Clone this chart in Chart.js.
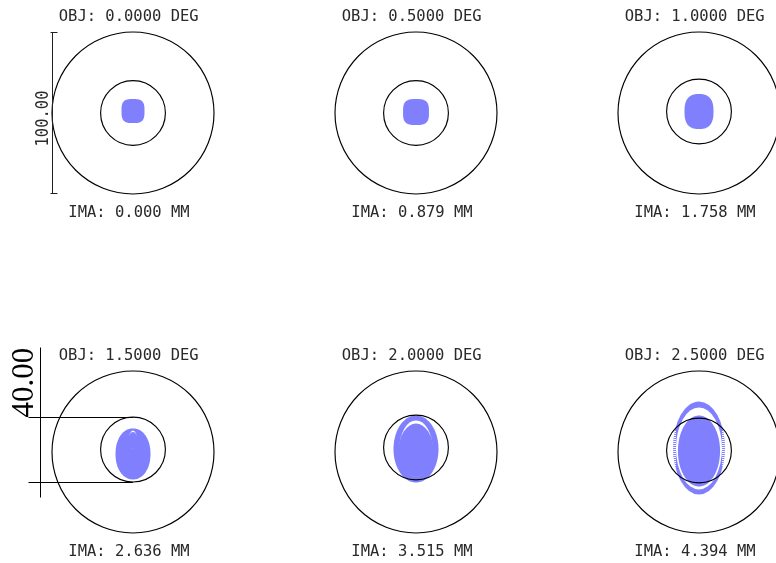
<!DOCTYPE html>
<html>
<head>
<meta charset="utf-8">
<title>Spot Diagram</title>
<script src="https://cdn.jsdelivr.net/npm/chart.js@4.4.1/dist/chart.umd.min.js"></script>
<style>
  html, body { margin: 0; padding: 0; background: #fff; width: 776px; height: 563px; overflow: hidden; }
  canvas { position: absolute; }
</style>
</head>
<body>
<script>
// Field points and their chief-ray image heights
const fieldAngles  = [0.0, 0.5, 1.0, 1.5, 2.0, 2.5];          // deg
const imageHeights = [0.000, 0.879, 1.758, 2.636, 3.515, 4.394]; // mm

// Reference circles (µm): plot scale circle and Airy disk
const scaleRadius = 50;   // 100.00 µm scale bar
const airyRadius  = 20;   // 40.00 µm Airy diameter
const airyCenterY = [0.0, 0.0, 0.9, 1.5, 2.8, 0.9];

// Spot core extents (µm, full width / full height) and centroid shift
const spotWidths   = [14.2, 16.0, 17.9, 21.6, 27.8, 26.0];
const spotHeights  = [14.8, 16.0, 21.6, 31.5, 41.4, 43.8];
const spotCenterY  = [1.2, 0.6, 0.9, -1.2, 1.85, 0.6];
const spotSquareness = [3.2, 3.2, 2.6, 2.1, 2.0, 2.0];

// Coma halo of the 2.5° field (µm): outer ring, the gap inside it, hatched band
const haloWidth = 32.1, haloHeight = 57.4, haloCenterY = 2.5;
const gapWidth  = 28.4, gapHeight  = 50.6, gapCenterY  = 2.2;
const haloHatchTop = 13.0, haloHatchBottom = -17.0;

// Vignetting crescents inside the 1.5° and 2.0° spots (µm)
const crescentField   = [3, 4];
const crescentWidth   = [5.0, 20.4];
const crescentOuterH  = [11.1, 34.6];
const crescentOuterY  = [7.7, 2.16];
const crescentInnerH  = [9.9, 32.4];
const crescentInnerY  = [7.1, 1.08];

const SPOT_BLUE = '#8080ff';
const PX_PER_UM = 1.62;
const SIZE = 260;
const HALF_RANGE = (SIZE / 2) / PX_PER_UM;
const colX = [133, 416, 699];
const rowY = [113, 451.5];

function superellipsePath(ctx, cx, cy, a, b, n) {
  ctx.beginPath();
  const steps = 120;
  for (let k = 0; k <= steps; k++) {
    const t = (k / steps) * Math.PI * 2;
    const c = Math.cos(t), s = Math.sin(t);
    const x = cx + a * Math.sign(c) * Math.pow(Math.abs(c), 2 / n);
    const y = cy + b * Math.sign(s) * Math.pow(Math.abs(s), 2 / n);
    if (k === 0) ctx.moveTo(x, y); else ctx.lineTo(x, y);
  }
  ctx.closePath();
}

function ellipsePath(ctx, cx, cy, rx, ry) {
  ctx.beginPath();
  ctx.ellipse(cx, cy, rx, ry, 0, 0, Math.PI * 2);
}

function fillEllipse(ctx, cx, cy, rx, ry, color) {
  ellipsePath(ctx, cx, cy, rx, ry);
  ctx.fillStyle = color;
  ctx.fill();
}

const spotPlugin = {
  id: 'spot',
  afterDatasetsDraw(chart, args, opts) {
    const i = opts.index;
    const ctx = chart.ctx;
    const xs = chart.scales.x, ys = chart.scales.y;
    const sx = v => xs.getPixelForValue(v);
    const sy = v => ys.getPixelForValue(v);
    const len = u => sx(u) - sx(0);
    const cx = sx(0), cy = sy(0);

    ctx.save();

    // halo ring (largest field only)
    if (i === 5) {
      fillEllipse(ctx, cx, sy(haloCenterY), len(haloWidth / 2), len(haloHeight / 2), SPOT_BLUE);
      fillEllipse(ctx, cx, sy(gapCenterY), len(gapWidth / 2), len(gapHeight / 2), '#ffffff');
      // sparse ray rows along the flanks of the ring
      ctx.save();
      ellipsePath(ctx, cx, sy(haloCenterY), len(haloWidth / 2), len(haloHeight / 2));
      ctx.clip();
      ctx.fillStyle = '#ffffff';
      const hw = len(haloWidth / 2);
      for (let y = Math.round(sy(haloHatchTop)); y <= sy(haloHatchBottom); y += 2) {
        ctx.fillRect(cx - hw - 1, y, hw - len(gapWidth / 2) + 1, 1);
        ctx.fillRect(cx + len(gapWidth / 2), y, hw - len(gapWidth / 2) + 1, 1);
      }
      ctx.restore();
    }

    // spot core
    superellipsePath(ctx, cx, sy(spotCenterY[i]), len(spotWidths[i] / 2), len(spotHeights[i] / 2), spotSquareness[i]);
    ctx.fillStyle = SPOT_BLUE;
    ctx.fill();

    // crescents
    const ci = crescentField.indexOf(i);
    if (ci >= 0) {
      fillEllipse(ctx, cx, sy(crescentOuterY[ci]), len(crescentWidth[ci] / 2), len(crescentOuterH[ci] / 2), '#ffffff');
      fillEllipse(ctx, cx, sy(crescentInnerY[ci]), len(crescentWidth[ci] / 2) + 0.8, len(crescentInnerH[ci] / 2) + 0.4, SPOT_BLUE);
    }

    // reference circles
    ctx.strokeStyle = '#000';
    ctx.lineWidth = 1.15;
    ctx.beginPath();
    ctx.arc(cx, cy, len(scaleRadius), 0, Math.PI * 2);
    ctx.stroke();
    ctx.beginPath();
    ctx.arc(cx, sy(airyCenterY[i]), len(airyRadius), 0, Math.PI * 2);
    ctx.stroke();
    ctx.lineWidth = 1;

    // labels
    ctx.fillStyle = '#2a2a2a';
    ctx.font = "15.5px 'DejaVu Sans Mono'";
    ctx.textAlign = 'center';
    ctx.textBaseline = 'alphabetic';
    ctx.fillText('OBJ: ' + fieldAngles[i].toFixed(4) + ' DEG', cx - 4.3, cy - 92);
    ctx.fillText('IMA: ' + imageHeights[i].toFixed(3) + ' MM', cx - 4, cy + 103.5);

    // scale bar for the plot circle
    if (i === 0) {
      const bx = Math.round(sx(-scaleRadius)) + 0.5;
      const top = sy(scaleRadius), bot = sy(-scaleRadius);
      ctx.strokeStyle = '#222';
      ctx.beginPath();
      ctx.moveTo(bx, top); ctx.lineTo(bx, bot);
      ctx.moveTo(bx - 2, Math.round(top) + 0.5); ctx.lineTo(bx + 5, Math.round(top) + 0.5);
      ctx.moveTo(bx - 2, Math.round(bot) - 0.5); ctx.lineTo(bx + 5, Math.round(bot) - 0.5);
      ctx.stroke();
      ctx.save();
      ctx.translate(cx - 90, cy + 5.5);
      ctx.rotate(-Math.PI / 2);
      ctx.scale(1, 1.15);
      ctx.textBaseline = 'middle';
      ctx.fillText((scaleRadius * 2).toFixed(2), 0, 0);
      ctx.restore();
    }

    // scale bar for the Airy diameter
    if (i === 3) {
      const yTop = Math.round(sy(airyCenterY[i] + airyRadius)) + 0.5;
      const yBot = Math.round(sy(airyCenterY[i] - airyRadius)) + 0.5;
      const vx = Math.round(cx - 93.5) + 0.5;
      ctx.strokeStyle = '#000';
      ctx.beginPath();
      ctx.moveTo(cx - 104.5, yTop); ctx.lineTo(cx, yTop);
      ctx.moveTo(cx - 104.5, yBot); ctx.lineTo(cx, yBot);
      ctx.moveTo(vx, yTop - 70); ctx.lineTo(vx, yBot + 15);
      ctx.stroke();
      ctx.save();
      ctx.translate(cx - 100, yTop);
      ctx.rotate(-Math.PI / 2);
      ctx.font = "31px 'Liberation Serif'";
      ctx.fillStyle = '#000';
      ctx.textAlign = 'left';
      ctx.textBaseline = 'alphabetic';
      ctx.fillText((airyRadius * 2).toFixed(2), 0, 0);
      ctx.restore();
    }

    ctx.restore();
  }
};

fieldAngles.forEach((angle, i) => {
  const canvas = document.createElement('canvas');
  canvas.width = SIZE;
  canvas.height = SIZE;
  canvas.style.left = (colX[i % 3] - SIZE / 2) + 'px';
  canvas.style.top = (rowY[Math.floor(i / 3)] - SIZE / 2) + 'px';
  document.body.appendChild(canvas);

  new Chart(canvas, {
    type: 'scatter',
    data: {
      datasets: [{
        label: 'OBJ ' + angle.toFixed(4) + ' DEG',
        data: [{ x: 0, y: spotCenterY[i] }],
        pointRadius: 0
      }]
    },
    options: {
      responsive: false,
      animation: false,
      devicePixelRatio: 1,
      layout: { padding: 0 },
      events: [],
      plugins: {
        legend: { display: false },
        tooltip: { enabled: false },
        spot: { index: i }
      },
      scales: {
        x: { type: 'linear', display: false, min: -HALF_RANGE, max: HALF_RANGE },
        y: { type: 'linear', display: false, min: -HALF_RANGE, max: HALF_RANGE }
      }
    },
    plugins: [spotPlugin]
  });
});
</script>
</body>
</html>
